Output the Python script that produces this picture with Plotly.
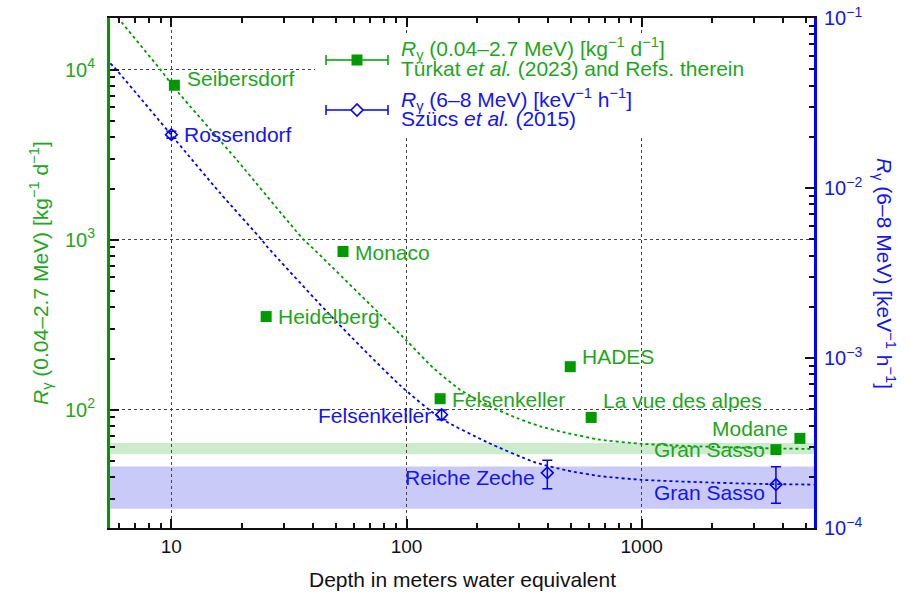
import math
import plotly.graph_objects as go

# ---------------- data ----------------
green_sites = ["Seibersdorf", "Heidelberg", "Monaco", "Felsenkeller", "HADES",
               "La vue des alpes", "Gran Sasso", "Modane"]
green_depth = [10.3, 25.3, 53.7, 139, 497, 610, 3725, 4710]
green_rate = [8100, 353, 852, 116, 179, 90, 58.2, 67.8]

blue_sites = ["Rossendorf", "Felsenkeller", "Reiche Zeche", "Gran Sasso"]
blue_depth = [10.0, 141, 397, 3725]
blue_rate = [0.0206, 4.64e-4, 2.11e-4, 1.80e-4]
blue_err_plus = [0.0010, 0.30e-4, 0.39e-4, 0.49e-4]
blue_err_minus = [0.0010, 0.30e-4, 0.41e-4, 0.40e-4]

green_curve_depth = [5.5, 5.96, 8.98, 10.5, 19.0, 36.5, 39, 100, 130, 169, 227, 294, 370, 481, 665, 1000, 1770, 3000, 5400]
green_curve_rate = [23000, 20000, 10000, 7570, 2940, 1000, 920, 255, 176, 131, 104.5, 89.4, 79.8, 72.9, 66.6, 63.0, 60.8, 59.5, 58.7]

blue_curve_depth = [5.5, 5.67, 10.4, 16.1, 24.3, 25.5, 50, 94, 139, 220, 347, 481, 665, 1000, 1770, 3000, 5400]
blue_curve_rate = [0.054, 0.0519, 0.0192, 9.35e-3, 4.93e-3, 4.53e-3, 1.65e-3, 6.9e-4, 4.44e-4, 3.2e-4, 2.45e-4, 2.18e-4, 2.02e-4, 1.92e-4, 1.86e-4, 1.82e-4, 1.80e-4]

green_band = [54.6, 63.7]
blue_band = [1.30e-4, 2.30e-4]

x_ticks = [10, 100, 1000]
x_ticktext = ["10", "100", "1000"]
yl_ticks = [100, 1000, 10000]
yl_ticktext = ["10<sup>2</sup>", "10<sup>3</sup>", "10<sup>4</sup>"]
yr_ticks = [1e-4, 1e-3, 1e-2, 1e-1]
yr_ticktext = ["10<sup>\u22124</sup>", "10<sup>\u22123</sup>", "10<sup>\u22122</sup>", "10<sup>\u22121</sup>"]

# label placement (pixel offsets) -- style only
green_lab = {"Seibersdorf": ("left", 11, 7), "Heidelberg": ("left", 10, 0), "Monaco": ("left", 10, -1),
             "Felsenkeller": ("left", 10, -1), "HADES": ("left", 10, 10),
             "La vue des alpes": ("left", 10, 17), "Gran Sasso": ("right", -9, 0),
             "Modane": ("right", -10, 10)}
blue_lab = {"Rossendorf": ("left", 11, 0), "Felsenkeller": ("right", -9, -1),
            "Reiche Zeche": ("right", -10, -5), "Gran Sasso": ("right", -9, -8)}

GREEN = "#009a00"
GREEN_TXT = "#1fa51f"
BLUE = "#0000ff"
BLUE_TXT = "#1414f5"
FONT = "Liberation Sans, Arial, sans-serif"
LAB = 21

XR = [0.739, 3.733]
YR = [1.304, 4.304]
Y2R = [-4, -1]

fig = go.Figure()

fig.add_trace(go.Scatter(x=green_curve_depth, y=green_curve_rate, mode="lines",
                         line=dict(color=GREEN, width=1.8, dash="dot", shape="spline", smoothing=0.6),
                         yaxis="y", showlegend=False))
fig.add_trace(go.Scatter(x=blue_curve_depth, y=blue_curve_rate, mode="lines",
                         line=dict(color=BLUE, width=1.8, dash="dot", shape="spline", smoothing=0.6),
                         yaxis="y2", showlegend=False))
fig.add_trace(go.Scatter(x=green_depth, y=green_rate, mode="markers",
                         marker=dict(symbol="square", size=11, color=GREEN),
                         yaxis="y", showlegend=False))
fig.add_trace(go.Scatter(x=blue_depth, y=blue_rate, mode="markers",
                         marker=dict(symbol="diamond-open", size=9, color=BLUE, line=dict(width=1.6, color=BLUE)),
                         error_y=dict(type="data", array=blue_err_plus, arrayminus=blue_err_minus,
                                      color=BLUE, thickness=1.5, width=5),
                         yaxis="y2", showlegend=False))

ann = []
for s, d, r in zip(green_sites, green_depth, green_rate):
    a, dx, dy = green_lab[s]
    ann.append(dict(x=math.log10(d), y=math.log10(r), xref="x", yref="y", text=s, showarrow=False,
                    xanchor=a, yanchor="middle", xshift=dx, yshift=dy,
                    font=dict(family=FONT, size=LAB, color=GREEN_TXT)))
for s, d, r in zip(blue_sites, blue_depth, blue_rate):
    a, dx, dy = blue_lab[s]
    ann.append(dict(x=math.log10(d), y=math.log10(r), xref="x", yref="y2", text=s, showarrow=False,
                    xanchor=a, yanchor="middle", xshift=dx, yshift=dy,
                    font=dict(family=FONT, size=LAB, color=BLUE_TXT)))

# pixel -> paper helpers for plot area (x: 110..814, y: 18..528)
def px2x(p):
    return (p - 110) / 704.0
def py2y(p):
    return (528.0 - p) / 510.0

leg = [
    ("<i>R</i><sub>\u03b3</sub> (0.04\u20132.7 MeV) [kg<sup>\u22121</sup> d<sup>\u22121</sup>]", 48, GREEN_TXT),
    ("T\u00fcrkat <i>et al.</i> (2023) and Refs. therein", 68, GREEN_TXT),
    ("<i>R</i><sub>\u03b3</sub> (6\u20138 MeV) [keV<sup>\u22121</sup> h<sup>\u22121</sup>]", 99, BLUE_TXT),
    ("Sz\u00fccs <i>et al.</i> (2015)", 119, BLUE_TXT),
]
for t, yy, c in leg:
    ann.append(dict(x=px2x(399), y=py2y(yy), xref="paper", yref="paper", text=t, showarrow=False,
                    xanchor="left", yanchor="middle", font=dict(family=FONT, size=LAB, color=c)))

# axis titles
ann.append(dict(x=px2x(40), y=0.5, xref="paper", yref="paper", textangle=-90, showarrow=False,
                text="<i>R</i><sub>\u03b3</sub> (0.04\u20132.7 MeV) [kg<sup>\u22121</sup> d<sup>\u22121</sup>]",
                font=dict(family=FONT, size=LAB, color=GREEN_TXT), xanchor="center", yanchor="middle"))
ann.append(dict(x=px2x(885), y=0.5, xref="paper", yref="paper", textangle=90, showarrow=False,
                text="<i>R</i><sub>\u03b3</sub> (6\u20138 MeV) [keV<sup>\u22121</sup> h<sup>\u22121</sup>]",
                font=dict(family=FONT, size=LAB, color=BLUE_TXT), xanchor="center", yanchor="middle"))
ann.append(dict(x=0.5, y=py2y(579), xref="paper", yref="paper", showarrow=False,
                text="Depth in meters water equivalent",
                font=dict(family=FONT, size=21, color="#111111"), xanchor="center", yanchor="middle"))

# white box behind the legend (hides the grid there); placed via the axis ranges
wx0 = 10 ** (XR[0] + px2x(315) * (XR[1] - XR[0]))
wx1 = 10 ** XR[1]
wy0 = 10 ** (YR[0] + py2y(135) * (YR[1] - YR[0]))
wy1 = 10 ** (YR[0] + py2y(35) * (YR[1] - YR[0]))

shapes = [
    dict(type="rect", xref="paper", yref="y", x0=0, x1=1, y0=green_band[0], y1=green_band[1],
         fillcolor="#cdebcd", line=dict(width=0), layer="between"),
    dict(type="rect", xref="paper", yref="y2", x0=0, x1=1, y0=blue_band[0], y1=blue_band[1],
         fillcolor="#cacaf8", line=dict(width=0), layer="between"),
    dict(type="rect", xref="x", yref="y", x0=wx0, x1=wx1, y0=wy0, y1=wy1,
         fillcolor="white", line=dict(width=0), layer="between"),
]
# legend symbols
for yy, col in [(60, GREEN), (110, BLUE)]:
    y0 = py2y(yy)
    shapes.append(dict(type="line", xref="paper", yref="paper", x0=px2x(326), x1=px2x(388), y0=y0, y1=y0,
                       line=dict(color=col, width=1.5)))
    for xx in (326, 388):
        shapes.append(dict(type="line", xref="paper", yref="paper", x0=px2x(xx), x1=px2x(xx),
                           y0=py2y(yy - 5), y1=py2y(yy + 5), line=dict(color=col, width=1.5)))
shapes.append(dict(type="rect", xref="paper", yref="paper", x0=px2x(351.5), x1=px2x(362.5),
                   y0=py2y(65.5), y1=py2y(54.5), fillcolor=GREEN, line=dict(width=0)))
cx, cy = px2x(357), py2y(110)
dx, dy = 6 / 704.0, 6 / 510.0
shapes.append(dict(type="path", xref="paper", yref="paper",
                   path=f"M {cx-dx},{cy} L {cx},{cy+dy} L {cx+dx},{cy} L {cx},{cy-dy} Z",
                   fillcolor="white", line=dict(color=BLUE, width=1.6)))

def minors(lo, hi):
    out = []
    e = lo
    while e < hi:
        for m in range(2, 10):
            out.append(m * 10 ** e)
        e += 1
    return out

fig.update_layout(
    width=910, height=598,
    margin=dict(l=110, r=96, t=18, b=70, autoexpand=False),
    paper_bgcolor="white", plot_bgcolor="white",
    showlegend=False,
    font=dict(family=FONT, size=19),
    xaxis=dict(type="log", range=XR, showline=True, linecolor="#111111", linewidth=2,
               mirror="ticks", ticks="inside", ticklen=9, tickwidth=1.5, tickcolor="#111111",
               tickvals=x_ticks, ticktext=x_ticktext, automargin=False,
               tickfont=dict(family=FONT, size=19, color="#111111"),
               showgrid=True, gridcolor="#444444", gridwidth=1.3, griddash="dot",
               minor=dict(tickvals=minors(0, 4), ticks="inside", ticklen=5, tickwidth=1.5,
                          tickcolor="#111111", showgrid=False),
               zeroline=False),
    yaxis=dict(type="log", range=YR, showline=True, linecolor=GREEN, linewidth=3,
               ticks="inside", ticklen=9, tickwidth=1.5, tickcolor="#111111",
               tickvals=yl_ticks, ticktext=yl_ticktext, automargin=False, ticklabelstandoff=8,
               tickfont=dict(family=FONT, size=20, color=GREEN_TXT),
               showgrid=True, gridcolor="#444444", gridwidth=1.3, griddash="dot",
               minor=dict(tickvals=minors(1, 5), ticks="inside", ticklen=5, tickwidth=1.5,
                          tickcolor="#111111", showgrid=False),
               zeroline=False),
    yaxis2=dict(type="log", range=Y2R, overlaying="y", side="right", showline=True,
                linecolor=BLUE, linewidth=3, automargin=False, ticklabeloverflow="allow",
                ticks="inside", ticklen=9, tickwidth=1.5, tickcolor="#111111",
                tickvals=yr_ticks, ticktext=yr_ticktext, ticklabelstandoff=3,
                tickfont=dict(family=FONT, size=20, color=BLUE_TXT),
                showgrid=False,
                minor=dict(tickvals=minors(-4, -1), ticks="inside", ticklen=5, tickwidth=1.5,
                           tickcolor="#111111", showgrid=False),
                zeroline=False),
    annotations=ann,
    shapes=shapes,
)

# remove the default 8px page margin so the 910x598 figure fills the window exactly
fig.write_html("out.html", config={"displayModeBar": False},
               post_script="document.body.style.margin='0';document.body.style.overflow='hidden';")
